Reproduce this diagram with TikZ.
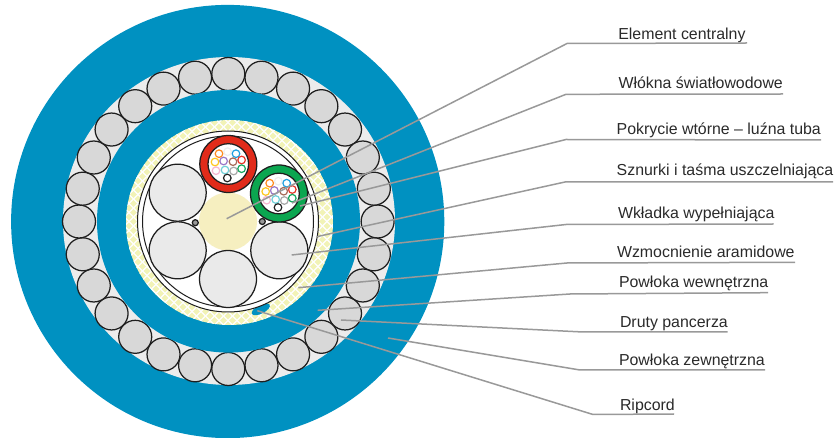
\documentclass[tikz,border=0pt]{standalone}
\usepackage{fontspec}
\setmainfont{Liberation Sans}
\definecolor{cblue}{HTML}{0091C1}
\definecolor{cband}{HTML}{ECECEC}
\definecolor{cwire}{HTML}{D8D8D8}
\definecolor{cbig}{HTML}{EAEAEA}
\definecolor{cline}{HTML}{1E1E1E}
\definecolor{cred}{HTML}{E12B1A}
\definecolor{cgreen}{HTML}{0BA650}
\definecolor{ccream}{HTML}{F6EFC0}
\definecolor{ctape}{HTML}{F2F3B6}
\definecolor{clead}{HTML}{999999}
\definecolor{ctext}{HTML}{2A2A2A}
\tikzset{
  wire/.style={draw=cline,line width=1.25pt,fill=cwire},
  bigrod/.style={draw=cline,line width=1.25pt,fill=cbig},
  leader/.style={draw=clead,line width=1.5pt,line join=round},
  lbl/.style={anchor=base west,inner sep=0pt,outer sep=0pt,text=ctext,font=\fontsize{15.9}{18}\selectfont},
  fibre/.style={line width=1.2pt,fill=white}
}
\newcommand{\fibres}[2]{%
  \foreach \fx/\fy/\fc in {-9.3/-10.3/FF8A1E,-.7/-12.3/EEEEEE,7.7/-10.3/1F9FE0,
    -13.3/-2/FFC81E,-4.7/-3/9B78C8,4.7/-2.3/A66A58,13.3/-4/E8352A,
    -12.3/6.7/F6B6D0,-3.3/6/70D0D8,5.3/7/A8A8A8,13.3/4.7/16A860,-1/14/222222}{
    \definecolor{fc}{HTML}{\fc}
    \draw[fibre,draw=fc] ({#1+\fx},{#2+\fy}) circle[radius=3.8pt];
  }%
}
\begin{document}
\begin{tikzpicture}[x=1pt,y=-1pt]
\useasboundingbox (0,0) rectangle (836,438);
\coordinate (c) at (228,221.5);
% sheaths
\fill[cblue] (227.7,221.5) circle[radius=216.6pt];
\fill[cband] (229,221) ellipse[x radius=166pt,y radius=164pt];
% armour wires
\foreach \i in {0,...,27}{
  \pgfmathsetmacro{\a}{\i*360/28}
  \draw[wire] ({228.3+149.3*cos(\a)},{221.5+147.5*sin(\a)}) circle[radius=16.5pt];
}
\fill[cblue] (228.5,221.3) ellipse[x radius=131.5pt,y radius=131.3pt];
% aramid yarn
\begin{scope}
  \clip (229.5,222.5) ellipse[x radius=103.5pt,y radius=102.5pt];
  \fill[ctape] (c) circle[radius=110pt];
  \foreach \k in {-20,...,20}{
    \draw[white,line width=1.4pt] ({228+\k*9-120},101.5) -- ({228+\k*9+120},341.5);
    \draw[white,line width=1.4pt] ({228+\k*9+120},101.5) -- ({228+\k*9-120},341.5);
  }
\end{scope}
% ripcord
\fill[cblue] (260.8,309.3) ellipse[x radius=10pt,y radius=4.3pt,rotate=27];
% core
\draw[cline,fill=white,line width=1pt] (c) circle[radius=90.5pt];
\draw[cline,line width=1pt] (c) circle[radius=85.5pt];
\fill[ccream] (228,221.5) circle[radius=29pt];
\draw[bigrod] (177.7,192.7) circle[radius=28.5pt];
\draw[bigrod] (177.7,250.3) circle[radius=28.5pt];
\draw[bigrod] (228,279) circle[radius=28.5pt];
\draw[bigrod] (279.3,250.3) circle[radius=28.5pt];
\draw[cline,fill=cgreen,line width=1.25pt] (279,193.5) circle[radius=28.5pt];
\draw[cline,fill=white,line width=1.25pt] (279,193.5) circle[radius=20.3pt];
\draw[cline,fill=cred,line width=1.25pt] (228.3,164) circle[radius=28.5pt];
\draw[cline,fill=white,line width=1.25pt] (228.3,164) circle[radius=20.3pt];
\fibres{228.3}{164}
\fibres{279}{193.5}
\draw[cline,fill=gray!80,line width=1.25pt] (195.3,222.7) circle[radius=3pt];
\draw[cline,fill=gray!80,line width=1.25pt] (262.3,221.5) circle[radius=3pt];
% labels
\node[lbl] (t1) at (618.3,40) {Element centralny};
\node[lbl] (t2) at (618.5,89) {Włókna światłowodowe};
\node[lbl] (t3) at (616.7,134.5) {Pokrycie wtórne – luźna tuba};
\node[lbl] (t4) at (616.7,176) {Sznurki i taśma uszczelniająca};
\node[lbl] (t5) at (618,218.5) {Wkładka wypełniająca};
\node[lbl] (t6) at (617,257.7) {Wzmocnienie aramidowe};
\node[lbl] (t7) at (619,288) {Powłoka wewnętrzna};
\node[lbl] (t8) at (620,328) {Druty pancerza};
\node[lbl] (t9) at (619,366) {Powłoka zewnętrzna};
\node[lbl] (t10) at (620,411) {Ripcord};
% leaders
\foreach \n/\sx/\sy/\kx/\ky/\ex/\ey in {
  1/226.7/218.7/567/43.5/747/43,
  2/292/203/566/94.3/783/94,
  3/300/206/566/139.5/821/140,
  4/316.7/236.7/565/182/833/182,
  5/291.7/255/566/224.5/773.5/224,
  6/298.3/287.7/567/263/795/262.3,
  7/317.7/310.3/570/294/768/292.7,
  8/341/320/583/332/727.7/332,
  9/388/338/580/370/765/370,
  10/257.3/310.7/593/414.5/674/414}{
  \coordinate (s\n) at (\sx,\sy);
  \coordinate (k\n) at (\kx,\ky);
  \coordinate (e\n) at (\ex,\ey);
  \draw[leader] (s\n) -- (k\n) -- (e\n);
}
\end{tikzpicture}
\end{document}
